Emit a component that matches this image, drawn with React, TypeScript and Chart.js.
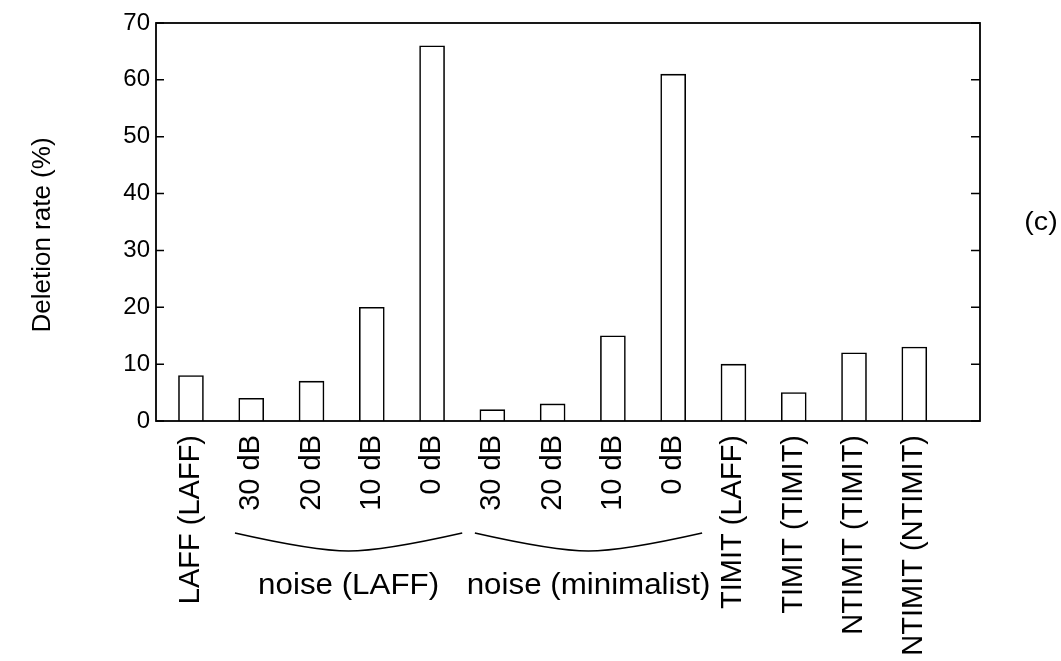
import React, { useEffect, useRef } from 'react';
import { Chart, registerables } from 'chart.js';

Chart.register(...registerables);

const categories = [
  'LAFF (LAFF)',
  '30 dB', '20 dB', '10 dB', '0 dB',
  '30 dB', '20 dB', '10 dB', '0 dB',
  'TIMIT (LAFF)', 'TIMIT (TIMIT)', 'NTIMIT (TIMIT)', 'NTIMIT (NTIMIT)',
];
const deletionRate = [8, 4, 7, 20, 66, 2, 3, 15, 61, 10, 5, 12, 13];
const yTickValues = [0, 10, 20, 30, 40, 50, 60, 70];
const groupLabels = ['noise (LAFF)', 'noise (minimalist)'];
const groupFrom = [1.73, 5.71];
const groupTo = [5.5, 9.48];
const yTitle = 'Deletion rate (%)';
const panelTag = '(c)';

const FONT = "'Liberation Sans', Arial, Helvetica, sans-serif";

const decorPlugin = {
  id: 'decor',
  afterDraw(chart: any) {
    const { ctx, chartArea } = chart;
    const { left, right, top, bottom } = chartArea;
    const ys = chart.scales.y;
    const xs = chart.scales.x;
    ctx.save();
    ctx.strokeStyle = '#000';
    ctx.fillStyle = '#000';
    // frame
    ctx.lineWidth = 1.8;
    ctx.strokeRect(left, top, right - left, bottom - top);
    // inward y ticks on both sides
    ctx.lineWidth = 1.5;
    yTickValues.forEach((v) => {
      const py = ys.getPixelForValue(v);
      ctx.beginPath();
      ctx.moveTo(left, py);
      ctx.lineTo(left + 8, py);
      ctx.moveTo(right, py);
      ctx.lineTo(right - 9, py);
      ctx.stroke();
    });
    // braces + group labels
    ctx.lineWidth = 1.6;
    groupLabels.forEach((label, i) => {
      const x0 = xs.getPixelForValue(groupFrom[i]);
      const x1 = xs.getPixelForValue(groupTo[i]);
      const mid = (x0 + x1) / 2;
      const y0 = bottom + 112;
      const y1 = bottom + 130;
      ctx.beginPath();
      ctx.moveTo(x0, y0);
      ctx.quadraticCurveTo(x0 + (mid - x0) * 0.7, y1, mid, y1);
      ctx.quadraticCurveTo(x1 - (x1 - mid) * 0.7, y1, x1, y0);
      ctx.stroke();
      ctx.save();
      ctx.translate(mid, bottom + 165);
      ctx.scale(1.08, 1);
      ctx.font = `29px ${FONT}`;
      ctx.textAlign = 'center';
      ctx.textBaseline = 'middle';
      ctx.fillText(label, 0, 0);
      ctx.restore();
    });
    // y title
    ctx.save();
    ctx.translate(43, 235);
    ctx.rotate(-Math.PI / 2);
    ctx.font = `26px ${FONT}`;
    ctx.textAlign = 'center';
    ctx.textBaseline = 'middle';
    ctx.fillText(yTitle, 0, 0);
    ctx.restore();
    // panel tag
    ctx.save();
    ctx.translate(1041, 223);
    ctx.scale(1.1, 1);
    ctx.font = `26px ${FONT}`;
    ctx.textAlign = 'center';
    ctx.textBaseline = 'middle';
    ctx.fillText(panelTag, 0, 0);
    ctx.restore();
    ctx.restore();
  },
};

export default function App() {
  const canvasRef = useRef<HTMLCanvasElement | null>(null);

  useEffect(() => {
    if (!canvasRef.current) return;
    Chart.defaults.font.family = FONT;
    Chart.defaults.color = '#000';
    const chart = new Chart(canvasRef.current, {
      type: 'bar',
      data: {
        datasets: [
          {
            data: categories.map((_, i) => ({ x: i + 1, y: deletionRate[i] })),
            backgroundColor: '#fff',
            borderColor: '#000',
            borderWidth: 1.6,
            barThickness: 25,
          },
        ],
      },
      options: {
        animation: false,
        responsive: false,
        maintainAspectRatio: false,
        layout: { padding: { top: 23, right: 81, left: 0, bottom: 0 } },
        plugins: { legend: { display: false }, tooltip: { enabled: false } },
        scales: {
          x: {
            type: 'linear',
            offset: false,
            min: 0.42,
            max: 14.09,
            grid: { display: false, drawTicks: false, offset: false },
            border: { display: false },
            afterBuildTicks: (scale: any) => {
              scale.ticks = categories.map((_, i) => ({ value: i + 1 }));
            },
            afterFit: (scale: any) => {
              scale.height = 240;
            },
            ticks: {
              autoSkip: false,
              minRotation: 90,
              maxRotation: 90,
              padding: 14,
              color: '#000',
              font: { size: 29 },
              callback: (_v: any, index: number) => categories[index],
            },
          },
          y: {
            min: 0,
            max: 70,
            grid: { display: false, drawTicks: false },
            border: { display: false },
            afterBuildTicks: (scale: any) => {
              scale.ticks = yTickValues.map((v) => ({ value: v }));
            },
            afterFit: (scale: any) => {
              scale.width = 156;
            },
            ticks: {
              padding: 6,
              color: '#000',
              font: { size: 24 },
              callback: (v: any) => String(v),
            },
          },
        },
      },
      plugins: [decorPlugin],
    } as any);
    return () => chart.destroy();
  }, []);

  return (
    <div style={{ position: 'absolute', left: 0, top: 0, width: 1061, height: 661, background: '#fff' }}>
      <canvas ref={canvasRef} width={1061} height={661} />
    </div>
  );
}
